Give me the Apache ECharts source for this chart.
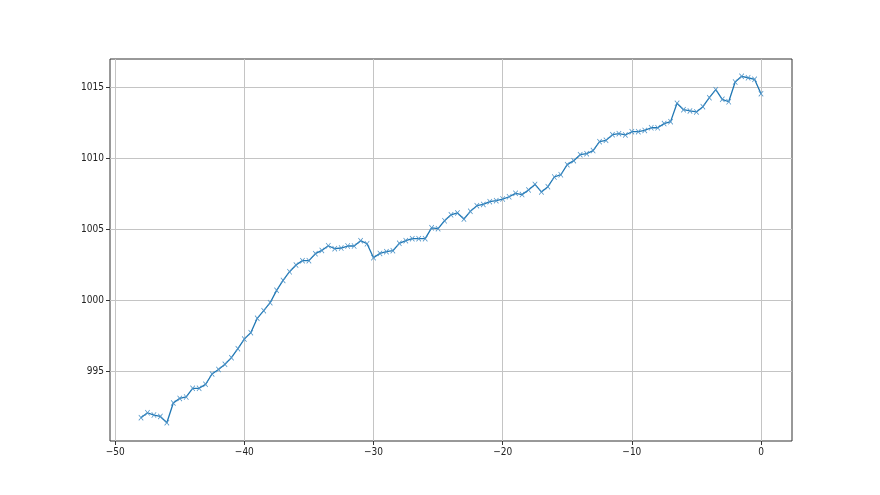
<!DOCTYPE html>
<html>
<head>
<meta charset="utf-8">
<script src="https://cdn.jsdelivr.net/npm/echarts@6/dist/echarts.min.js"></script>
<style>
  html, body { margin: 0; padding: 0; background: #fff; }
  #main { width: 880px; height: 495px; }
</style>
</head>
<body>
<div id="main"></div>
<script>
// x positions run from -48 to 0 in steps of 0.5
const xValues = [];
for (let i = 0; i <= 96; i++) xValues.push(-48 + i * 0.5);

const pressure = [
  991.71, 992.06, 991.90, 991.80, 991.36, 992.75, 993.07, 993.17, 993.78, 993.78,
  994.06, 994.79, 995.11, 995.47, 995.94, 996.57, 997.25, 997.70, 998.71, 999.25,
  999.81, 1000.68, 1001.38, 1001.99, 1002.46, 1002.77, 1002.77, 1003.26, 1003.49, 1003.82,
  1003.61, 1003.66, 1003.80, 1003.80, 1004.18, 1003.96, 1002.98, 1003.28, 1003.40, 1003.47,
  1003.99, 1004.18, 1004.32, 1004.32, 1004.32, 1005.08, 1005.02, 1005.58, 1006.00, 1006.13,
  1005.70, 1006.24, 1006.64, 1006.73, 1006.92, 1006.99, 1007.11, 1007.27, 1007.51, 1007.42,
  1007.75, 1008.14, 1007.61, 1007.98, 1008.66, 1008.82, 1009.53, 1009.81, 1010.23, 1010.30,
  1010.52, 1011.15, 1011.24, 1011.64, 1011.71, 1011.62, 1011.85, 1011.85, 1011.94, 1012.13,
  1012.13, 1012.42, 1012.56, 1013.85, 1013.40, 1013.31, 1013.24, 1013.61, 1014.25, 1014.81,
  1014.13, 1013.96, 1015.35, 1015.75, 1015.65, 1015.54, 1014.53
];

const xTicks = [-50, -40, -30, -20, -10, 0];
const yTicks = [995, 1000, 1005, 1010, 1015];

const fontFamily = '"Liberation Sans Narrow", "DejaVu Sans Condensed", "DejaVu Sans", sans-serif';
const minus = v => String(v).replace('-', '\u2212');

const chart = echarts.init(document.getElementById('main'));
chart.setOption({
  animation: false,
  backgroundColor: '#fff',
  grid: {
    left: 110, right: 88, top: 59, bottom: 54,
    show: true, borderColor: '#333', borderWidth: 1, backgroundColor: 'transparent'
  },
  xAxis: {
    type: 'value',
    min: -50.4, max: 2.4,
    axisLine: { show: false, onZero: false },
    axisTick: { show: true, length: 4, customValues: xTicks, lineStyle: { color: '#333' } },
    axisLabel: {
      customValues: xTicks, formatter: minus, margin: 6,
      color: '#222', fontSize: 10, fontFamily: fontFamily
    },
    splitLine: { show: true, lineStyle: { color: '#c4c4c4', width: 1 } }
  },
  yAxis: {
    type: 'value',
    min: 990.07, max: 1016.97,
    axisLine: { show: false, onZero: false },
    axisTick: { show: true, length: 4, customValues: yTicks, lineStyle: { color: '#333' } },
    axisLabel: {
      customValues: yTicks, formatter: v => String(v), margin: 6,
      color: '#222', fontSize: 10, fontFamily: fontFamily
    },
    splitLine: { show: true, lineStyle: { color: '#c4c4c4', width: 1 } }
  },
  series: [{
    type: 'line',
    data: xValues.map((x, i) => [x, pressure[i]]),
    symbol: 'path://M0,1L1,0L5,4L9,0L10,1L6,5L10,9L9,10L5,6L1,10L0,9L4,5Z',
    symbolSize: [5, 6],
    showAllSymbol: true,
    itemStyle: { color: '#4f94c8' },
    lineStyle: { color: '#1f77b4', width: 1.3 }
  }]
});
</script>
</body>
</html>
